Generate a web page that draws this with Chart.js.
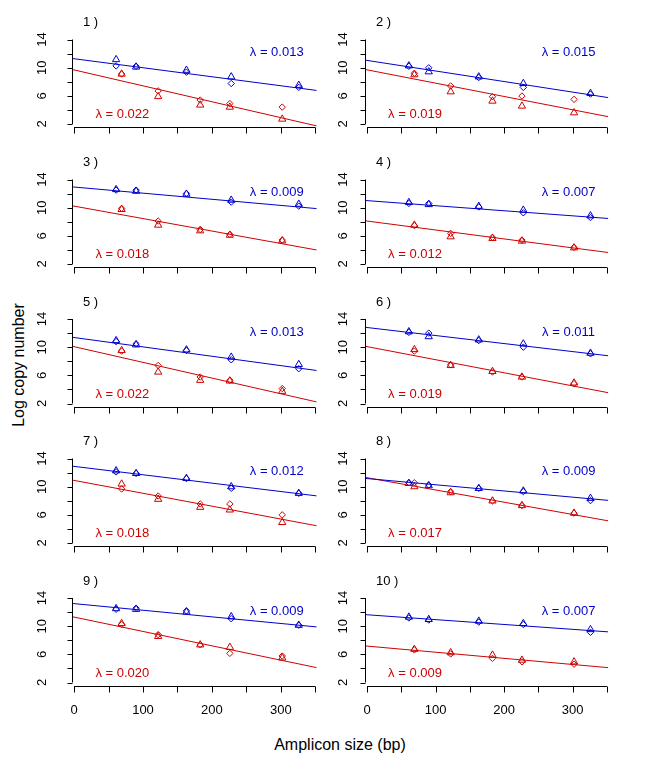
<!DOCTYPE html>
<html><head><meta charset="utf-8">
<script src="https://cdn.jsdelivr.net/npm/chart.js@4/dist/chart.umd.min.js"></script>
<style>
html,body{margin:0;padding:0;background:#fff}
body{width:645px;height:782px;position:relative;overflow:hidden;font-family:"Liberation Sans",Arial,sans-serif}
canvas{position:absolute}
#ytitle{position:absolute;left:19px;top:365px;transform:translate(-50%,-50%) rotate(-90deg);font-size:16px;white-space:nowrap;color:#000}
#xtitle{position:absolute;left:340px;top:745px;transform:translate(-50%,-50%);font-size:16px;white-space:nowrap;color:#000}
</style></head><body>
<div id="ytitle">Log copy number</div>
<div id="xtitle">Amplicon size (bp)</div>
<script>
const panelLabels = ["1 )","2 )","3 )","4 )","5 )","6 )","7 )","8 )","9 )","10 )"];
const lambdaBlue = ["0.013","0.015","0.009","0.007","0.013","0.011","0.012","0.009","0.009","0.007"];
const lambdaRed  = ["0.022","0.019","0.018","0.012","0.022","0.019","0.018","0.017","0.020","0.009"];
const blueSizes = [61, 90, 163, 228, 326];
const redSizes  = [69, 122, 183, 226, 302];
const blueTri = [
  [11.15,10.1,9.64,8.7,7.5],[10.27,9.42,8.7,7.76,6.35],[12.58,12.34,11.92,11.07,10.5],
  [10.74,10.45,10.2,9.65,8.85],[10.94,10.33,9.62,8.59,7.55],[12.2,11.5,11.04,10.47,9.15],
  [12.26,11.88,11.18,10.0,9.06],[10.47,10.14,9.76,9.39,8.35],[12.5,12.4,12.02,11.35,10.14],
  [11.3,10.96,10.72,10.38,9.52]];
const blueDia = [
  [10.25,10.2,9.36,7.75,7.2],[10.2,9.98,8.6,7.2,6.25],[12.49,12.49,12.0,10.79,10.22],
  [10.6,10.6,10.1,9.27,8.6],[10.8,10.47,9.53,8.21,6.94],[12.1,12.0,10.94,10.0,9.06],
  [12.1,11.88,11.15,9.76,9.06],[10.56,10.24,9.76,9.3,8.02],[12.4,12.55,12.17,11.06,10.14],
  [11.16,10.87,10.58,10.24,9.13]];
const redTri = [
  [9.1,5.9,4.7,4.4,2.7],[9.0,6.58,5.26,4.55,3.6],[9.75,7.53,6.72,6.1,5.3],
  [7.53,5.87,5.64,5.26,4.3],[9.53,6.47,5.3,5.2,3.74],[9.67,7.4,6.56,5.76,4.92],
  [10.38,8.21,7.08,6.7,4.92],[10.0,9.15,7.98,7.32,6.24],[10.38,8.55,7.35,7.0,5.5],
  [6.72,6.24,5.9,5.18,4.94]];
const redDia = [
  [9.1,6.7,5.4,4.9,4.4],[9.2,7.4,5.87,5.97,5.5],[9.89,8.1,6.9,6.2,5.4],
  [7.45,6.35,5.78,5.4,4.36],[9.45,7.4,5.76,5.3,4.12],[9.44,7.5,6.47,5.76,4.82],
  [9.67,8.68,7.55,7.55,6.0],[10.56,9.3,7.98,7.32,6.24],[10.24,8.8,7.35,6.14,5.76],
  [6.63,6.05,5.42,4.94,4.6]];
const blueIntercept = [11.27,11.03,12.93,11.0,11.37,12.79,12.88,11.15,13.2,11.62];
const blueSlope = [-0.0128,-0.015,-0.0087,-0.0072,-0.0133,-0.0114,-0.0119,-0.0088,-0.0094,-0.0069];
const redIntercept = [9.68,9.69,10.22,8.1,10.07,10.08,10.89,11.27,11.29,7.17];
const redSlope = [-0.0226,-0.0189,-0.0177,-0.0127,-0.0223,-0.0186,-0.0183,-0.0174,-0.0204,-0.0087];
const xTicks = [0,50,100,150,200,250,300,350];
const xTickLabels = [0,100,200,300];
const yTicks = [2,4,6,8,10,12,14];
const yTickLabels = [2,6,10,14];
const blueLabelPos = {x:294, y:12.1};
const redLabelPos = {x:70, y:3.3};

const X_MIN = -3, X_MAX = 352, Y_MIN = 1.52, Y_MAX = 14.48;
const BLUE = '#0000CD', RED = '#D00000';
const FONT = '"Liberation Sans", Arial, sans-serif';
const colArea = [{l:72, r:316.7},{l:365, r:608.3}];
const colCanvas = [{l:0, w:322},{l:322, w:323}];
const rowTop14 = [39.5, 179.5, 319, 458.5, 598];
const PXU = 84.5/12;

function mkCanvas(left, top, w, h){
  const c = document.createElement('canvas');
  c.width = w; c.height = h;
  c.style.left = left+'px'; c.style.top = top+'px';
  c.style.width = w+'px'; c.style.height = h+'px';
  document.body.appendChild(c);
  return c;
}

const axesPlugin = {
  id:'rAxes',
  afterDraw(chart){
    const o = chart.options.plugins.rAxes;
    const ctx = chart.ctx, xs = chart.scales.x, ys = chart.scales.y;
    const ca = chart.chartArea;
    ctx.save();
    ctx.strokeStyle = '#000'; ctx.lineWidth = 1; ctx.fillStyle = '#000';
    // y axis
    const xl = Math.round(ca.left)+0.5;
    ctx.beginPath();
    ctx.moveTo(xl, ys.getPixelForValue(yTicks[0]));
    ctx.lineTo(xl, ys.getPixelForValue(yTicks[yTicks.length-1]));
    yTicks.forEach(v=>{ const p = Math.round(ys.getPixelForValue(v))+0.5; ctx.moveTo(xl, p); ctx.lineTo(xl-5, p); });
    ctx.stroke();
    ctx.font = '13px '+FONT; ctx.textAlign='center'; ctx.textBaseline='middle';
    yTickLabels.forEach(v=>{
      const p = ys.getPixelForValue(v);
      ctx.save(); ctx.translate(ca.left - o.yLabOff, p); ctx.rotate(-Math.PI/2); ctx.fillText(String(v),0,0); ctx.restore();
    });
    // x axis
    const yb = Math.round(ca.bottom)+0.5;
    ctx.beginPath();
    ctx.moveTo(xs.getPixelForValue(xTicks[0]), yb);
    ctx.lineTo(xs.getPixelForValue(xTicks[xTicks.length-1]), yb);
    xTicks.forEach(v=>{ const p = Math.round(xs.getPixelForValue(v))+0.5; ctx.moveTo(p, yb); ctx.lineTo(p, yb+6); });
    ctx.stroke();
    if (o.showX){
      ctx.textBaseline='middle';
      xTickLabels.forEach(v=>{ ctx.fillText(String(v), xs.getPixelForValue(v), yb+24); });
    }
    // panel label
    ctx.textAlign='left'; ctx.font='13px '+FONT;
    ctx.fillText(o.label, ca.left+11, ys.getPixelForValue(14)-17);
    // lambda labels
    ctx.textAlign='center'; ctx.font='13px '+FONT;
    ctx.fillStyle = BLUE;
    ctx.fillText('λ = '+o.lb, xs.getPixelForValue(blueLabelPos.x), ys.getPixelForValue(blueLabelPos.y));
    ctx.fillStyle = RED;
    ctx.fillText('λ = '+o.lr, xs.getPixelForValue(redLabelPos.x), ys.getPixelForValue(redLabelPos.y));
    ctx.restore();
  }
};

function pts(xsArr, ysArr){ return xsArr.map((x,i)=>({x:x, y:ysArr[i]})); }
function lineFor(a,b){ return [{x:X_MIN, y:a+b*X_MIN},{x:X_MAX, y:a+b*X_MAX}]; }

for (let i=0;i<10;i++){
  const col = i%2, row = Math.floor(i/2);
  const T = rowTop14[row];
  const cTop = Math.round(T - 32);
  const cH = row===4 ? 170 : 140;
  const cv = mkCanvas(colCanvas[col].l, cTop, colCanvas[col].w, cH);
  const areaTop = T - (Y_MAX-14)*PXU;
  const areaBot = T + 12*PXU + (2-Y_MIN)*PXU;
  const pad = {
    left: colArea[col].l - colCanvas[col].l,
    right: colCanvas[col].l + colCanvas[col].w - colArea[col].r,
    top: areaTop - cTop,
    bottom: cTop + cH - areaBot
  };
  new Chart(cv, {
    type:'scatter',
    data:{datasets:[
      {label:'fit blue', type:'line', data:lineFor(blueIntercept[i], blueSlope[i]), borderColor:BLUE, borderWidth:1, pointRadius:0, fill:false},
      {label:'fit red', type:'line', data:lineFor(redIntercept[i], redSlope[i]), borderColor:RED, borderWidth:1, pointRadius:0, fill:false},
      {label:'blue tri', data:pts(blueSizes, blueTri[i]), pointStyle:'triangle', pointRadius:4.2, borderColor:BLUE, backgroundColor:'rgba(0,0,0,0)', borderWidth:1},
      {label:'blue dia', data:pts(blueSizes, blueDia[i]), pointStyle:'rectRot', pointRadius:3.2, borderColor:BLUE, backgroundColor:'rgba(0,0,0,0)', borderWidth:1},
      {label:'red tri', data:pts(redSizes, redTri[i]), pointStyle:'triangle', pointRadius:4.2, borderColor:RED, backgroundColor:'rgba(0,0,0,0)', borderWidth:1},
      {label:'red dia', data:pts(redSizes, redDia[i]), pointStyle:'rectRot', pointRadius:3.2, borderColor:RED, backgroundColor:'rgba(0,0,0,0)', borderWidth:1}
    ]},
    options:{
      responsive:false, animation:false, devicePixelRatio:1,
      layout:{padding:pad},
      scales:{
        x:{type:'linear', min:X_MIN, max:X_MAX, display:false},
        y:{type:'linear', min:Y_MIN, max:Y_MAX, display:false}
      },
      plugins:{legend:{display:false}, tooltip:{enabled:false}, title:{display:false},
        rAxes:{label:panelLabels[i], lb:lambdaBlue[i], lr:lambdaRed[i], showX: row===4, yLabOff: col===0 ? 30 : 22}}
    },
    plugins:[axesPlugin]
  });
}
</script>
</body></html>
